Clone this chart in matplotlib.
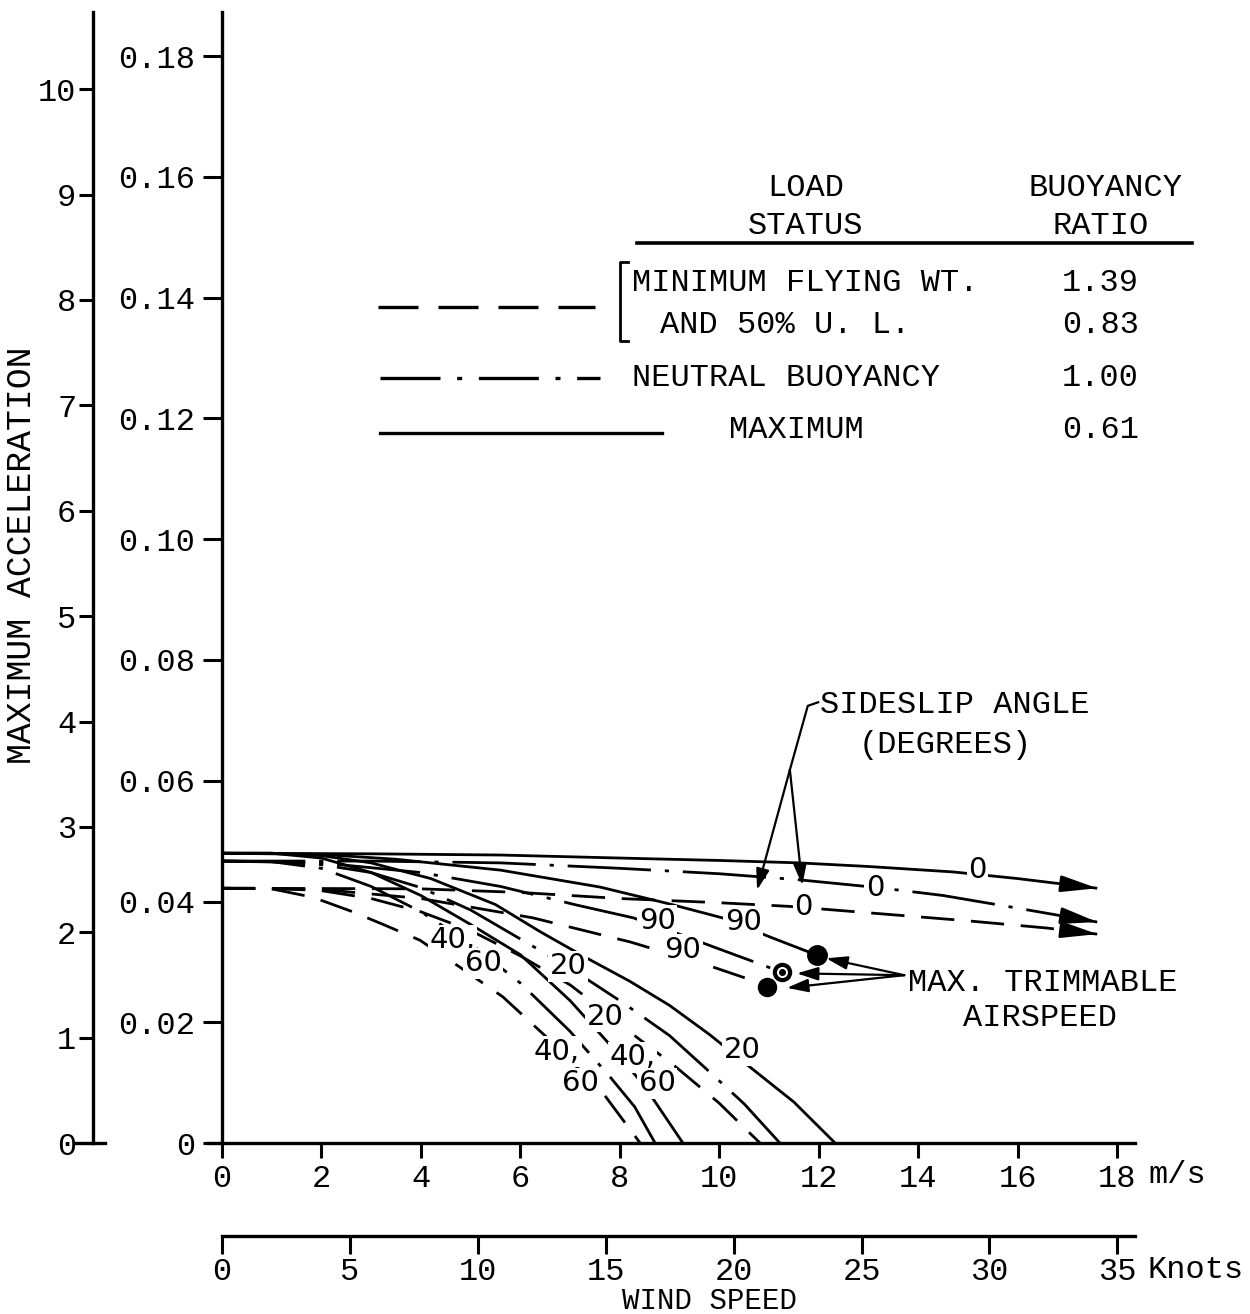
import numpy as np
import matplotlib
matplotlib.use("Agg")
import matplotlib.pyplot as plt

plt.rcParams["font.family"] = ["Liberation Mono", "DejaVu Sans"]

# wind speed (m/s) vs maximum acceleration (rad/s^2), one pair per curve
# load status: maximum (solid)
max0_v = [0, 3, 5.6, 8, 10, 11.6, 13, 14.7, 16, 17.6]
max0_a = [0.0480, 0.0479, 0.0477, 0.0472, 0.0468, 0.0464, 0.0458, 0.0449, 0.0438, 0.0422]
max90_v = [0, 2, 3.5, 5.6, 7.6, 9, 10.06, 11.06, 11.97]
max90_a = [0.0480, 0.0478, 0.0470, 0.0452, 0.0424, 0.0396, 0.0373, 0.0340, 0.0311]
max20_v = [0, 1, 2, 3, 4.2, 5.5, 6.4, 7.3, 8.2, 9.0, 9.8, 10.6, 11.5, 12.33]
max20_a = [0.0480, 0.0480, 0.0476, 0.0464, 0.0438, 0.0395, 0.0350, 0.0308, 0.0268, 0.0228, 0.0180, 0.0127, 0.0068, 0.0]
max4060_v = [0, 1, 2, 3, 4, 5, 6, 7, 7.8, 8.5, 9.27]
max4060_a = [0.0480, 0.0480, 0.0472, 0.0448, 0.0410, 0.0362, 0.0312, 0.0236, 0.0163, 0.0094, 0.0]

# load status: neutral buoyancy (dash-dot)
neu0_v = [0, 3, 5.6, 8, 10, 11.6, 13.2, 14.5, 16, 17.6]
neu0_a = [0.0467, 0.0467, 0.0464, 0.0455, 0.0446, 0.0436, 0.0423, 0.0410, 0.0389, 0.0366]
neu90_v = [0, 2, 4, 5.6, 7.14, 8.27, 9.0, 9.88, 11.26]
neu90_a = [0.0467, 0.0464, 0.0448, 0.0425, 0.0394, 0.0373, 0.0352, 0.0325, 0.0283]
neu20_v = [0, 1, 2, 3, 4, 5, 6, 6.94, 8.07, 9.0, 9.75, 10.5, 11.22]
neu20_a = [0.0467, 0.0466, 0.0461, 0.0448, 0.0423, 0.0386, 0.0338, 0.0293, 0.0232, 0.0178, 0.0122, 0.0065, 0.0]
neu4060_v = [0, 1, 2, 3, 4, 5, 6, 7, 7.8, 8.3, 8.71]
neu4060_a = [0.0467, 0.0466, 0.0455, 0.0425, 0.0383, 0.0330, 0.0265, 0.0185, 0.0110, 0.0060, 0.0]

# load status: minimum flying wt. / 50% u.l. (dashed)
fly0_v = [0, 4, 6, 8, 10, 11.4, 13.5, 15, 16.6, 17.6]
fly0_a = [0.0422, 0.0421, 0.0415, 0.0405, 0.0398, 0.0392, 0.0378, 0.0368, 0.0356, 0.0346]
fly90_v = [0, 2, 4, 6.25, 8.21, 9.75, 10.82, 10.96]
fly90_a = [0.0422, 0.0420, 0.0405, 0.0373, 0.0333, 0.0295, 0.0265, 0.0258]
fly20_v = [0, 1, 2, 3, 4, 5, 6, 7, 7.7, 8.2, 9.07, 10, 10.82]
fly20_a = [0.0422, 0.0422, 0.0418, 0.0405, 0.0383, 0.0352, 0.0310, 0.0262, 0.0218, 0.0184, 0.0130, 0.0066, 0.0]
fly4060_v = [0, 1, 1.83, 2.63, 3.3, 3.98, 4.79, 5.65, 6.6, 7.66, 8.41]
fly4060_a = [0.0422, 0.0421, 0.0407, 0.0383, 0.0360, 0.0336, 0.0291, 0.0242, 0.0170, 0.0083, 0.0]

ms_ticks = [0, 2, 4, 6, 8, 10, 12, 14, 16, 18]
acc_ticks = [0, 0.02, 0.04, 0.06, 0.08, 0.10, 0.12, 0.14, 0.16, 0.18]
acc_labels = ["0", "0.02", "0.04", "0.06", "0.08", "0.10", "0.12", "0.14", "0.16", "0.18"]
deg_ticks = [0, 1, 2, 3, 4, 5, 6, 7, 8, 9, 10]
knot_ticks = [0, 5, 10, 15, 20, 25, 30, 35]

status_names = ["MINIMUM FLYING WT.", "AND 50% U. L.", "NEUTRAL BUOYANCY", "MAXIMUM"]
buoyancy_ratio = ["1.39", "0.83", "1.00", "0.61"]

RAD2DEG = 180 / np.pi
MS_PER_KNOT = 0.514444

DASHED = (0, (12, 6))
DASHDOT = (0, (30, 5, 1.5, 5))
SOLID = "-"
LW = 2.0
FS = 23

fig = plt.figure(figsize=(12.5, 13.14), dpi=100)
ax = fig.add_axes([0.1664, 0.1301, 0.7416, 0.8607])
ax.set_xlim(-0.28, 18.36)
ax.set_ylim(0, 0.1873)
for side in ("top", "right"):
    ax.spines[side].set_visible(False)
ax.spines["left"].set_position(("data", 0))
for side in ("left", "bottom"):
    ax.spines[side].set_linewidth(2.4)
ax.set_xticks(ms_ticks)
ax.set_yticks(acc_ticks, acc_labels)
ax.tick_params(axis="both", direction="out", width=2.2, labelsize=FS)
ax.tick_params(axis="x", length=11, pad=4)
ax.tick_params(axis="y", length=14, pad=5)

# degrees scale on the far left
deg = ax.secondary_yaxis(-0.1241, functions=(lambda a: a * RAD2DEG, lambda d: d / RAD2DEG))
deg.set_yticks(deg_ticks)
deg.spines["left"].set_linewidth(2.4)
deg.tick_params(direction="out", length=10, width=2.2, labelsize=FS, pad=2)
ax.plot([-2.96, -2.35], [0, 0], color="black", lw=2.4, clip_on=False)

# knots scale under the m/s scale
knots = ax.secondary_xaxis(-0.0822, functions=(lambda v: v / MS_PER_KNOT, lambda k: k * MS_PER_KNOT))
knots.set_xticks(knot_ticks)
knots.spines["bottom"].set_linewidth(2.4)
knots.spines["bottom"].set_bounds(0, 35.7)
knots.tick_params(direction="out", length=13, width=2.2, labelsize=FS, pad=2)

curves = [
    (max0_v, max0_a, SOLID), (max90_v, max90_a, SOLID),
    (max20_v, max20_a, SOLID), (max4060_v, max4060_a, SOLID),
    (neu0_v, neu0_a, DASHDOT), (neu90_v, neu90_a, DASHDOT),
    (neu20_v, neu20_a, DASHDOT), (neu4060_v, neu4060_a, DASHDOT),
    (fly0_v, fly0_a, DASHED), (fly90_v, fly90_a, DASHED),
    (fly20_v, fly20_a, DASHED), (fly4060_v, fly4060_a, DASHED),
]
for v, a, ls in curves:
    ax.plot(v, a, color="black", lw=LW, linestyle=ls, solid_capstyle="butt",
            solid_joinstyle="round", zorder=2)

# arrow heads on the zero-sideslip curves
head = dict(arrowstyle="-|>,head_length=1.1,head_width=0.25", color="black", lw=LW,
            mutation_scale=20, shrinkA=0, shrinkB=0)
for v, a in [(max0_v, max0_a), (neu0_v, neu0_a), (fly0_v, fly0_a)]:
    slope = (a[-1] - a[-2]) / (v[-1] - v[-2])
    ax.annotate("", xy=(v[-1], a[-1]), xytext=(v[-1] - 0.5, a[-1] - 0.5 * slope), arrowprops=head)

# max trimmable airspeed points
ax.plot(max90_v[-1], max90_a[-1], "o", ms=14, color="black", zorder=4)
ax.plot(neu90_v[-1], neu90_a[-1], "o", ms=11, mfc="white", mec="black", mew=3, zorder=4)
ax.plot(neu90_v[-1], neu90_a[-1], "o", ms=4, color="black", zorder=5)
ax.plot(fly90_v[-1], fly90_a[-1], "o", ms=13, color="black", zorder=4)

# sideslip labels on the curves
lab = dict(family="DejaVu Sans", fontsize=21, ha="center", va="center", zorder=3,
           bbox=dict(fc="white", ec="none", pad=1.0))
ax.text(15.19, 0.0452, "0", **lab)
ax.text(13.13, 0.0422, "0", **lab)
ax.text(11.69, 0.0391, "0", **lab)
ax.text(10.48, 0.0366, "90", **lab)
ax.text(8.75, 0.0368, "90", **lab)
ax.text(9.27, 0.0320, "90", **lab)
ax.text(10.46, 0.0154, "20", **lab)
ax.text(6.96, 0.0293, "20", **lab)
ax.text(7.70, 0.0209, "20", **lab)
ax.text(4.63, 0.0336, "40,", **lab)
ax.text(5.25, 0.0298, "60", **lab)
ax.text(6.74, 0.0151, "40,", **lab)
ax.text(7.20, 0.0099, "60", **lab)
ax.text(8.25, 0.0142, "40,", **lab)
ax.text(8.75, 0.0099, "60", **lab)

# sideslip angle callout
ax.text(14.74, 0.0725, "SIDESLIP ANGLE", ha="center", va="center", fontsize=FS)
ax.text(14.54, 0.0659, "(DEGREES)", ha="center", va="center", fontsize=FS)
ax.plot([11.99, 11.78, 11.42], [0.0730, 0.0724, 0.0618], color="black", lw=1.6)
thin = dict(arrowstyle="-|>,head_length=0.8,head_width=0.25", color="black", lw=1.6,
            mutation_scale=16, shrinkA=0, shrinkB=0)
ax.annotate("", xy=(10.76, 0.0419), xytext=(11.42, 0.0618), arrowprops=thin)
ax.annotate("", xy=(11.67, 0.0427), xytext=(11.42, 0.0618), arrowprops=thin)

# max trimmable airspeed callout
ax.text(13.80, 0.0265, "MAX. TRIMMABLE", ha="left", va="center", fontsize=FS)
ax.text(16.45, 0.0207, "AIRSPEED", ha="center", va="center", fontsize=FS)
for x, y in [(12.15, 0.0306), (11.56, 0.0281), (11.36, 0.0257)]:
    ax.annotate("", xy=(x, y), xytext=(13.72, 0.0278), arrowprops=thin)

# load status table
ax.text(11.73, 0.1581, "LOAD", ha="center", va="center", fontsize=FS)
ax.text(11.73, 0.1518, "STATUS", ha="center", va="center", fontsize=FS)
ax.text(17.76, 0.1581, "BUOYANCY", ha="center", va="center", fontsize=FS)
ax.text(17.66, 0.1518, "RATIO", ha="center", va="center", fontsize=FS)
ax.plot([8.35, 19.51], [0.1490, 0.1490], color="black", lw=2.6, clip_on=False)
ax.plot([8.17, 8.0, 8.0, 8.17], [0.1459, 0.1459, 0.1328, 0.1328], color="black", lw=2.0)
row_y = [0.1424, 0.1355, 0.1267, 0.1181]
ax.text(8.25, row_y[0], status_names[0], ha="left", va="center", fontsize=FS)
ax.text(8.81, row_y[1], status_names[1], ha="left", va="center", fontsize=FS)
ax.text(8.25, row_y[2], status_names[2], ha="left", va="center", fontsize=FS)
ax.text(11.56, row_y[3], status_names[3], ha="center", va="center", fontsize=FS)
for y, r in zip(row_y, buoyancy_ratio):
    ax.text(17.66, y, r, ha="center", va="center", fontsize=FS, clip_on=False)
ax.plot([3.14, 7.50], [0.1384, 0.1384], color="black", lw=2.4, linestyle=DASHED)
ax.plot([3.18, 7.60], [0.1267, 0.1267], color="black", lw=2.4, linestyle=(0, (18, 5, 1.5, 5)))
ax.plot([3.18, 8.85], [0.1176, 0.1176], color="black", lw=2.4)

# axis titles and units
fig.text(22 / 1250, 1 - 555 / 1314, "MAXIMUM ACCELERATION", rotation=90,
         ha="center", va="center", fontsize=25)
fig.text(1148 / 1250, 1 - 1175 / 1314, "m/s", ha="left", va="center", fontsize=FS)
fig.text(1148 / 1250, 1 - 1270 / 1314, "Knots", ha="left", va="center", fontsize=FS)
fig.text(710 / 1250, 1 - 1309 / 1314, "WIND SPEED", ha="center", va="baseline", fontsize=21)

fig.savefig("out.png", dpi=100, facecolor="white")
